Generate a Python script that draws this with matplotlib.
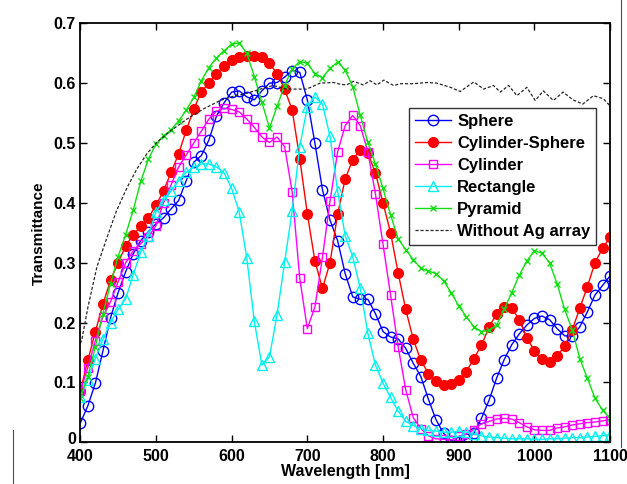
import numpy as np
import matplotlib
matplotlib.use('Agg')
import matplotlib.pyplot as plt
import matplotlib.transforms as mtransforms
from matplotlib.lines import Line2D

plt.rcParams['font.family'] = ['Liberation Sans', 'DejaVu Sans']
plt.rcParams['font.weight'] = 'bold'

# wavelength grid of the simulated curves (nm)
wl = np.arange(400, 1101, 10)

sphere = [0.032, 0.061, 0.099, 0.153, 0.208, 0.250, 0.285, 0.315, 0.337, 0.352,
          0.365, 0.375, 0.390, 0.404, 0.437, 0.468, 0.479, 0.505, 0.545, 0.567,
          0.585, 0.587, 0.577, 0.572, 0.587, 0.600, 0.601, 0.610, 0.621, 0.618,
          0.572, 0.500, 0.422, 0.371, 0.337, 0.282, 0.243, 0.239, 0.239, 0.215,
          0.185, 0.176, 0.173, 0.157, 0.132, 0.110, 0.072, 0.038, 0.015, 0.003,
          0.000, 0.005, 0.015, 0.040, 0.070, 0.107, 0.138, 0.163, 0.181, 0.196,
          0.207, 0.211, 0.205, 0.190, 0.178, 0.177, 0.193, 0.218, 0.246, 0.262,
          0.278]

cyl_sphere = [0.085, 0.137, 0.185, 0.231, 0.271, 0.300, 0.328, 0.347, 0.361, 0.375,
              0.396, 0.420, 0.451, 0.482, 0.521, 0.557, 0.585, 0.601, 0.615, 0.629,
              0.638, 0.643, 0.646, 0.646, 0.643, 0.633, 0.616, 0.590, 0.555, 0.474,
              0.382, 0.303, 0.257, 0.300, 0.381, 0.440, 0.472, 0.489, 0.483, 0.450,
              0.400, 0.350, 0.283, 0.222, 0.172, 0.137, 0.115, 0.102, 0.096, 0.097,
              0.104, 0.118, 0.140, 0.162, 0.192, 0.215, 0.226, 0.224, 0.205, 0.175,
              0.153, 0.139, 0.135, 0.144, 0.161, 0.188, 0.224, 0.260, 0.300, 0.324,
              0.343]

cylinder = [0.085, 0.125, 0.170, 0.210, 0.235, 0.268, 0.300, 0.320, 0.332, 0.343,
            0.362, 0.400, 0.430, 0.460, 0.480, 0.500, 0.520, 0.540, 0.553, 0.558,
            0.556, 0.552, 0.540, 0.526, 0.510, 0.501, 0.510, 0.494, 0.418, 0.274,
            0.190, 0.226, 0.309, 0.403, 0.485, 0.529, 0.546, 0.529, 0.485, 0.415,
            0.331, 0.246, 0.160, 0.088, 0.041, 0.023, 0.011, 0.006, 0.005, 0.004,
            0.010, 0.014, 0.021, 0.031, 0.035, 0.039, 0.040, 0.039, 0.033, 0.026,
            0.021, 0.020, 0.020, 0.024, 0.026, 0.029, 0.031, 0.033, 0.034, 0.036,
            0.038]

rectangle = [0.076, 0.105, 0.140, 0.172, 0.200, 0.222, 0.240, 0.280, 0.318, 0.345,
             0.385, 0.404, 0.420, 0.437, 0.451, 0.460, 0.465, 0.465, 0.460, 0.450,
             0.424, 0.385, 0.308, 0.202, 0.129, 0.143, 0.213, 0.301, 0.387, 0.494,
             0.560, 0.577, 0.565, 0.511, 0.420, 0.345, 0.310, 0.257, 0.182, 0.129,
             0.099, 0.075, 0.052, 0.035, 0.028, 0.023, 0.020, 0.019, 0.017, 0.017,
             0.019, 0.017, 0.014, 0.011, 0.009, 0.008, 0.007, 0.006, 0.006, 0.006,
             0.005, 0.005, 0.006, 0.006, 0.007, 0.008, 0.008, 0.009, 0.010, 0.011,
             0.013]

pyramid = [0.074, 0.110, 0.160, 0.215, 0.265, 0.310, 0.347, 0.388, 0.436, 0.473,
           0.498, 0.512, 0.522, 0.537, 0.555, 0.576, 0.604, 0.626, 0.642, 0.654,
           0.665, 0.667, 0.650, 0.611, 0.568, 0.525, 0.561, 0.596, 0.624, 0.636,
           0.633, 0.616, 0.609, 0.625, 0.635, 0.622, 0.594, 0.546, 0.501, 0.465,
           0.424, 0.380, 0.340, 0.322, 0.305, 0.291, 0.286, 0.282, 0.270, 0.250,
           0.228, 0.210, 0.193, 0.185, 0.187, 0.196, 0.222, 0.250, 0.279, 0.303,
           0.320, 0.316, 0.300, 0.265, 0.222, 0.188, 0.140, 0.107, 0.074, 0.054,
           0.040]

# bare substrate (no Ag array), read at irregular wavelengths
wl_ref = [400, 402, 410, 422, 435, 448, 462, 475, 488, 501, 519, 541, 563, 585,
          602, 620, 638, 655, 673, 699, 717, 735, 744, 752, 761, 774, 783, 792,
          801, 814, 823, 840, 858, 871, 889, 902, 920, 933, 946, 955, 966, 977,
          990, 1001, 1012, 1025, 1038, 1051, 1064, 1078, 1091, 1100]
t_ref = [0.165, 0.171, 0.225, 0.293, 0.341, 0.387, 0.426, 0.457, 0.482, 0.501,
         0.520, 0.540, 0.557, 0.571, 0.578, 0.583, 0.590, 0.596, 0.590, 0.590,
         0.600, 0.601, 0.598, 0.597, 0.603, 0.597, 0.604, 0.597, 0.605, 0.596,
         0.599, 0.599, 0.601, 0.600, 0.593, 0.586, 0.602, 0.590, 0.596, 0.585,
         0.596, 0.579, 0.593, 0.571, 0.587, 0.571, 0.585, 0.572, 0.565, 0.579,
         0.574, 0.562]

fig = plt.figure(figsize=(6.27, 4.84), dpi=100)
ax = fig.add_axes([0.128, 0.086, 0.845, 0.866])

lw = 1.0
ax.plot(wl, sphere, '-o', color='#0000ff', mfc='none', ms=7.5, mew=1.0, lw=lw, label='Sphere')
ax.plot(wl, cyl_sphere, '-o', color='#ff0000', mfc='#ff0000', ms=7, mew=1.0, lw=lw, label='Cylinder-Sphere')
ax.plot(wl, cylinder, '-s', color='#ff00ff', mfc='none', ms=6, mew=1.0, lw=lw, label='Cylinder')
ax.plot(wl, rectangle, '-^', color='#00f0f0', mfc='none', ms=7.5, mew=1.0, lw=lw, label='Rectangle')
ax.plot(wl, pyramid, '-x', color='#11dd11', ms=5, mew=1.0, lw=lw, label='Pyramid')
ax.plot(wl_ref, t_ref, '--', color='0.15', lw=0.9, dashes=(2.5, 1.5), label='Without Ag array')

ax.set_xlim(400, 1100)
ax.set_ylim(0, 0.7)
ax.set_xticks(range(400, 1101, 100))
ax.set_yticks(np.arange(0, 0.71, 0.1))
ax.set_yticklabels(['0', '0.1', '0.2', '0.3', '0.4', '0.5', '0.6', '0.7'])
ax.tick_params(direction='in', top=True, right=True, length=5, width=1.0,
               labelsize=11.5)
ax.tick_params(axis='x', pad=5)
ax.tick_params(axis='y', pad=3)
for s in ax.spines.values():
    s.set_linewidth(1.3)

# lift the "0" label a little so it sits just above "400"
zero_lbl = ax.get_yticklabels()[0]
zero_lbl.set_transform(zero_lbl.get_transform() +
                       mtransforms.ScaledTranslation(0, 4 / 100, fig.dpi_scale_trans))

ax.set_xlabel('Wavelength [nm]', fontsize=11.5, fontweight='bold', labelpad=0)
ax.set_ylabel('Transmittance', fontsize=11, fontweight='bold', labelpad=6)

leg = ax.legend(loc='upper right', bbox_to_anchor=(0.974, 0.797), borderaxespad=0,
                fontsize=12, frameon=True, fancybox=False, edgecolor='k',
                handlelength=2.2, handletextpad=0.35, labelspacing=0.42,
                borderpad=0.35)
leg.get_frame().set_linewidth(1.0)
for t in leg.get_texts():
    t.set_fontweight('bold')

# page frame lines visible in the scan
fig.add_artist(Line2D([13 / 627, 13 / 627], [0, 1 - 430 / 484], color='0.3', lw=0.8, zorder=10))
fig.add_artist(Line2D([621 / 627, 621 / 627], [1 - 447 / 484, 1], color='0.3', lw=0.8, zorder=10))

fig.savefig('out.png', dpi=100)
